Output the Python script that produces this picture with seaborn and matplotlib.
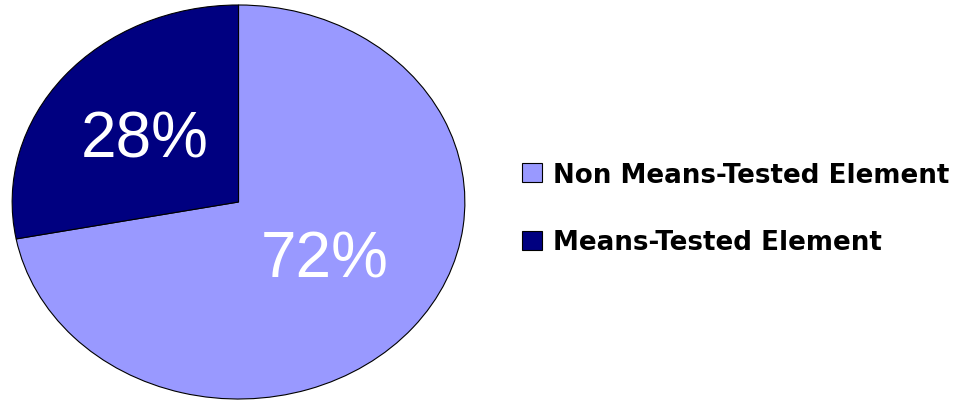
import matplotlib
matplotlib.use("Agg")
import matplotlib.pyplot as plt
import seaborn as sns

sns.set_style("white")
plt.rcParams['font.family'] = ['Liberation Sans', 'DejaVu Sans']

categories = ["Non Means-Tested Element", "Means-Tested Element"]
values = [72, 28]
colors = ["#9999FF", "#000080"]

fig = plt.figure(figsize=(9.57, 4.02), dpi=100)
W, H = 957, 402
ax = fig.add_axes([11 / W, (H - 401) / H, 455 / W, 396 / H])
wedges, texts, autotexts = ax.pie(
    values, colors=colors, startangle=90, counterclock=False,
    autopct=lambda p: f"{p:.0f}%", pctdistance=0.58,
    wedgeprops=dict(edgecolor="black", linewidth=0.8),
    textprops=dict(color="white", fontsize=46),
)
ax.set_aspect("auto")
ax.set_xlim(-1.005, 1.005)
ax.set_ylim(-1.005, 1.005)
ax.axis("off")

def px_to_data(px, py):
    x0, y0 = 11 + 455 / 2, 5 + 396 / 2
    return ((px - x0) / (455 / 2) * 1.005, -(py - y0) / (396 / 2) * 1.005)

autotexts[0].set_position(px_to_data(325, 260))
autotexts[1].set_position(px_to_data(145, 140))
for t in autotexts:
    t.set_ha("center")
    t.set_va("center")

leg = fig.legend(
    wedges, categories, loc="center left", bbox_to_anchor=(522 / W, 1 - 209.5 / H),
    frameon=False, prop=dict(family="DejaVu Sans", weight="bold", size=18.8),
    handlelength=0.75, handleheight=0.75, handletextpad=0.45, labelspacing=1.6,
    borderpad=0, borderaxespad=0,
)
for t in leg.get_texts():
    t.set_color("black")

fig.savefig("out.png", dpi=100)
